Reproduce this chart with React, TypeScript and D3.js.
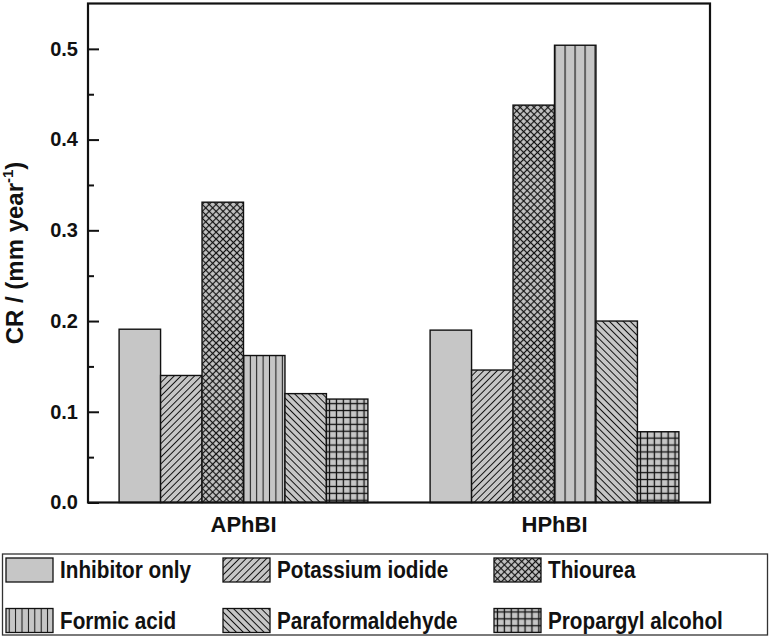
import { useRef, useEffect } from 'react'
import * as d3 from 'd3'

const WIDTH = 774
const HEIGHT = 639
const PLOT = { left: 88, right: 710, top: 3.5, bottom: 502.5 }
const FONT = 'Liberation Sans, Arial, sans-serif'
const FILL = '#c6c6c6'

const GROUPS = ['APhBI', 'HPhBI']
const SERIES = ['Inhibitor only', 'Potassium iodide', 'Thiourea', 'Formic acid', 'Paraformaldehyde', 'Propargyl alcohol']
const APHBI_CR = [0.191, 0.14, 0.331, 0.162, 0.12, 0.114]
const HPHBI_CR = [0.19, 0.146, 0.438, 0.504, 0.2, 0.078]
const Y_TICKS = [0, 0.1, 0.2, 0.3, 0.4, 0.5]
const Y_MINOR = [0.05, 0.15, 0.25, 0.35, 0.45]

// pattern per series (the HPhBI formic acid bar has wider stripes in the original)
const PATTERN_IDS = ['solid', 'diag-up', 'cross', 'vert', 'diag-down', 'grid']

export default function App() {
  const svgRef = useRef<SVGSVGElement>(null)

  useEffect(() => {
    if (!svgRef.current) return
    const svg = d3.select(svgRef.current)
    svg.selectAll('*').remove()

    const defs = svg.append('defs')
    const addPattern = (id: string, size: number, angle: number, vertical: boolean, horizontal: boolean, sw: number) => {
      const p = defs
        .append('pattern')
        .attr('id', id)
        .attr('patternUnits', 'userSpaceOnUse')
        .attr('width', size)
        .attr('height', size)
        .attr('patternTransform', `rotate(${angle})`)
      p.append('rect').attr('width', size).attr('height', size).attr('fill', FILL)
      if (vertical)
        p.append('line')
          .attr('x1', size / 2).attr('x2', size / 2).attr('y1', 0).attr('y2', size)
          .attr('stroke', '#111').attr('stroke-width', sw)
      if (horizontal)
        p.append('line')
          .attr('x1', 0).attr('x2', size).attr('y1', size / 2).attr('y2', size / 2)
          .attr('stroke', '#111').attr('stroke-width', sw)
    }
    addPattern('diag-up', 4.8, 45, true, false, 1)
    addPattern('diag-down', 4.9, -45, true, false, 1)
    addPattern('cross', 4.9, 45, true, true, 1.2)
    addPattern('vert', 6.4, 0, true, false, 1)
    addPattern('vert-wide', 10, 0, true, false, 1.1)
    addPattern('grid', 6.9, 0, true, true, 1.3)

    const fillFor = (si: number, gi: number) => {
      const id = PATTERN_IDS[si]
      if (id === 'solid') return FILL
      if (id === 'vert' && gi === 1) return 'url(#vert-wide)'
      return `url(#${id})`
    }

    const x0 = d3.scaleBand().domain(GROUPS).range([PLOT.left, PLOT.right]).padding(0)
    const groupWidth = x0.bandwidth() * 0.8
    const x1 = d3.scaleBand().domain(SERIES).range([0, groupWidth]).padding(0)
    const y = d3.scaleLinear().domain([0, 0.55]).range([PLOT.bottom, PLOT.top])

    const values = [APHBI_CR, HPHBI_CR]

    const bars = svg.append('g')
    GROUPS.forEach((grp, gi) => {
      const gx = (x0(grp) ?? 0) + (x0.bandwidth() - groupWidth) / 2
      bars
        .append('g')
        .attr('transform', `translate(${gx},0)`)
        .selectAll('rect')
        .data(values[gi])
        .join('rect')
        .attr('x', (_d, i) => x1(SERIES[i]) ?? 0)
        .attr('width', x1.bandwidth())
        .attr('y', (d) => y(d))
        .attr('height', (d) => y(0) - y(d))
        .attr('fill', (_d, i) => fillFor(i, gi))
        .attr('stroke', '#111')
        .attr('stroke-width', 1.4)
    })

    // y axis, inward ticks
    const yAxis = svg
      .append('g')
      .attr('transform', `translate(${PLOT.left},0)`)
      .call(
        d3
          .axisLeft(y)
          .tickValues(Y_TICKS)
          .tickSize(-11)
          .tickPadding(10)
          .tickFormat((d) => d3.format('.1f')(d as number)),
      )
    yAxis.select('.domain').remove()
    yAxis.selectAll('line').attr('stroke', '#111').attr('stroke-width', 2)
    yAxis
      .selectAll('text')
      .attr('font-family', FONT)
      .attr('font-weight', 'bold')
      .attr('font-size', '20px')
      .attr('fill', '#111')

    const yMinor = svg
      .append('g')
      .attr('transform', `translate(${PLOT.left},0)`)
      .call(d3.axisLeft(y).tickValues(Y_MINOR).tickSize(-6).tickFormat(() => ''))
    yMinor.select('.domain').remove()
    yMinor.selectAll('line').attr('stroke', '#111').attr('stroke-width', 2)

    // frame
    svg
      .append('rect')
      .attr('x', PLOT.left)
      .attr('y', PLOT.top)
      .attr('width', PLOT.right - PLOT.left)
      .attr('height', PLOT.bottom - PLOT.top)
      .attr('fill', 'none')
      .attr('stroke', '#111')
      .attr('stroke-width', 2.2)

    // x labels
    svg
      .append('g')
      .selectAll('text')
      .data(GROUPS)
      .join('text')
      .attr('x', (d) => (x0(d) ?? 0) + x0.bandwidth() / 2)
      .attr('y', 532)
      .attr('text-anchor', 'middle')
      .attr('font-family', FONT)
      .attr('font-weight', 'bold')
      .attr('font-size', '22px')
      .attr('fill', '#111')
      .text((d) => d)

    // y title
    const yTitle = svg
      .append('text')
      .attr('transform', `translate(23,${(PLOT.top + PLOT.bottom) / 2}) rotate(-90)`)
      .attr('text-anchor', 'middle')
      .attr('font-family', FONT)
      .attr('font-weight', 'bold')
      .attr('font-size', '24px')
      .attr('fill', '#111')
    yTitle.append('tspan').text('CR / (mm year')
    yTitle.append('tspan').attr('dy', -10).attr('font-size', '15px').text('-1')
    yTitle.append('tspan').attr('dy', 10).text(')')

    // legend
    const legend = svg.append('g')
    legend
      .append('rect')
      .attr('x', 2.5)
      .attr('y', 554)
      .attr('width', 765)
      .attr('height', 81)
      .attr('fill', 'white')
      .attr('stroke', '#333')
      .attr('stroke-width', 1.3)

    const colX = [6, 223, 494]
    const rowY = [558, 608.5]
    const items = legend
      .selectAll('g.item')
      .data(SERIES)
      .join('g')
      .attr('class', 'item')
      .attr('transform', (_d, i) => `translate(${colX[i % 3]},${rowY[Math.floor(i / 3)]})`)
    items
      .append('rect')
      .attr('width', 47)
      .attr('height', 24)
      .attr('fill', (_d, i) => fillFor(i, 0))
      .attr('stroke', '#111')
      .attr('stroke-width', 1.3)
    items
      .append('text')
      .attr('transform', 'translate(54,12) scale(0.9,1)')
      .attr('dy', '0.36em')
      .attr('font-family', FONT)
      .attr('font-weight', 'bold')
      .attr('font-size', '23px')
      .attr('fill', '#111')
      .text((d) => d)
  }, [])

  return (
    <svg
      ref={svgRef}
      width={WIDTH}
      height={HEIGHT}
      style={{ position: 'absolute', left: 0, top: 0, background: 'white' }}
    />
  )
}
